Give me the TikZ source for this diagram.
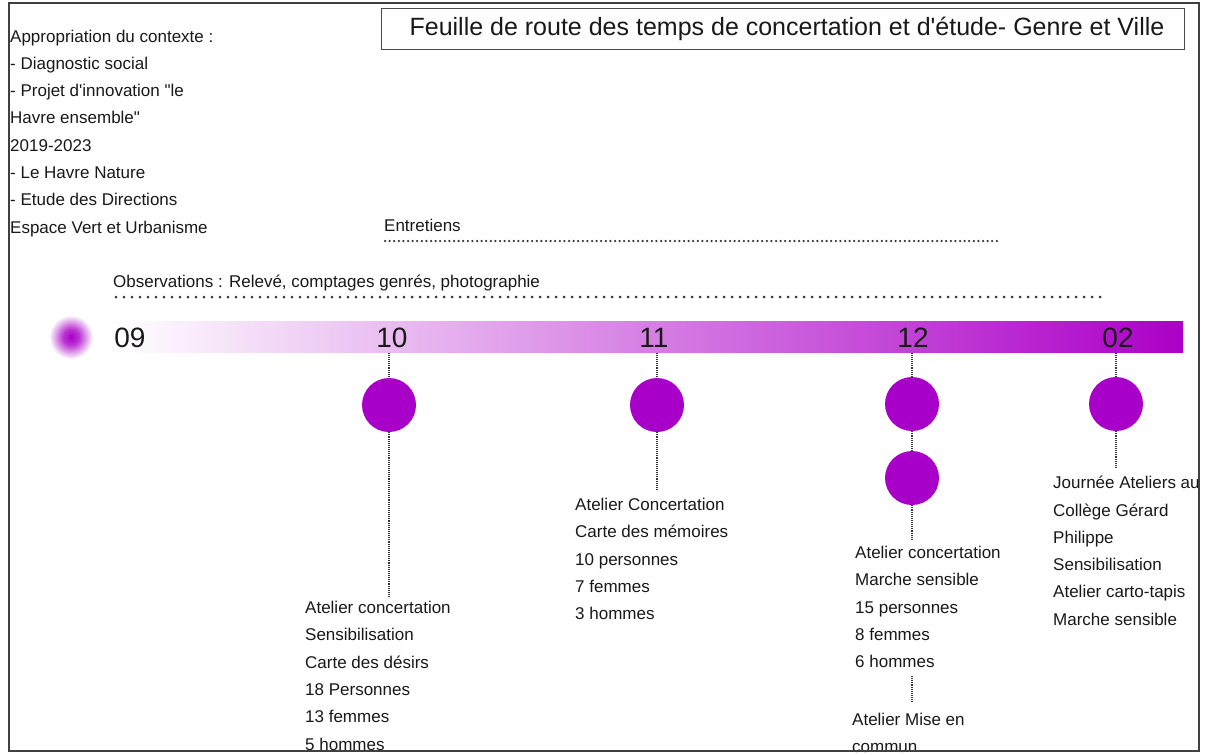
\documentclass[tikz,border=0pt]{standalone}
\usepackage{fontspec}
\setmainfont{Liberation Sans}
\usetikzlibrary{calc}
\definecolor{circc}{RGB}{168,0,200}
\definecolor{barR}{RGB}{172,0,200}
\definecolor{txt}{RGB}{25,25,25}
\definecolor{dotc}{RGB}{55,55,55}
\pgfdeclareradialshading{fuzzy}{\pgfpoint{0bp}{0bp}}{color(0bp)=(circc); color(9bp)=(circc!80!white); color(25bp)=(white); color(50bp)=(white)}
\begin{document}
\begin{tikzpicture}[x=1pt,y=-1pt,
  body/.style={font=\fontsize{17}{27.3}\selectfont, text=txt, align=left, anchor=north west, inner xsep=0pt, inner ysep=3pt},
  single/.style={font=\fontsize{17}{20}\selectfont, text=txt, anchor=base west, inner sep=0pt},
  month/.style={font=\fontsize{28}{30}\selectfont, text=txt, inner sep=0pt},
  bullet/.style={circle, fill=circc, minimum size=54pt, inner sep=0pt},
  vlink/.style={draw=dotc, line width=1.6pt, dash pattern=on 1.1pt off 1pt},
  obsline/.style={draw=dotc, line width=3pt, line cap=round, dash pattern=on 0pt off 8pt},
  entline/.style={draw=dotc, line width=2.5pt, line cap=round, dash pattern=on 0pt off 4.6pt},
]
\useasboundingbox (0,0) rectangle (1208,755);
\fill[white] (0,0) rectangle (1208,755);

% title
\node[draw=black!70, line width=1pt, minimum width=803pt, minimum height=41pt, inner sep=0pt,
      font=\fontsize{25}{28}\selectfont, text=txt] (title) at (783,28.5)
  {\hspace*{8pt}Feuille de route des temps de concertation et d\textquotesingle étude- Genre et Ville};

% context text
\node[body] (ctx) at (10,26.5) {Appropriation du contexte :\\
- Diagnostic social\\
- Projet d\textquotesingle innovation \textquotedbl le\\
Havre ensemble\textquotedbl\\
2019-2023\\
- Le Havre Nature\\
- Etude des Directions\\
Espace Vert et Urbanisme};

% entretiens / observations
\node[single] (ent) at (384,231) {Entretiens};
\draw[entline] (385,241) -- (997,241);
\node[single] (obs) at (113,287) {Observations : Relevé, comptages genrés, photographie};
\draw[obsline] (116,297) -- (1104,297);

% fuzzy start dot
\shade[shading=fuzzy] (71,337) circle (22pt);

% timeline bar
\node[inner sep=0pt, minimum width=1070pt, minimum height=31pt, left color=white, right color=barR] (bar) at (648,337) {};

\node[month] (m09) at (130,338) {09};
\node[month] (m10) at (392,338) {10};
\node[month] (m11) at (654,338) {11};
\node[month] (m12) at (913,338) {12};
\node[month] (m02) at (1118,338) {02};

% bullets
\node[bullet] (c10) at (389,405) {};
\node[bullet] (c11) at (657,405) {};
\node[bullet] (c12a) at (912,404) {};
\node[bullet] (c12b) at (912,478) {};
\node[bullet] (c02) at (1116,404) {};

% text blocks
\node[body] (t10) at (305,598) {Atelier concertation\\Sensibilisation\\Carte des désirs\\18 Personnes\\13 femmes\\5 hommes};
\node[body] (t11) at (575,495) {Atelier Concertation\\Carte des mémoires\\10 personnes\\7 femmes\\3 hommes};
\node[body] (t12) at (855,543) {Atelier concertation\\Marche sensible\\15 personnes\\8 femmes\\6 hommes};
\node[body] (t12b) at (852,710) {Atelier Mise en\\commun};
\node[body] (t02) at (1053,473) {Journée Ateliers au\\Collège Gérard\\Philippe\\Sensibilisation\\Atelier carto-tapis\\Marche sensible};

% connectors
\draw[vlink] (bar.south -| c10) -- (c10.north);
\draw[vlink] (c10.south) -- (c10 |- t10.north);
\draw[vlink] (bar.south -| c11) -- (c11.north);
\draw[vlink] (c11.south) -- ($(c11 |- t11.north)+(0,-6)$);
\draw[vlink] (bar.south -| c12a) -- (c12a.north);
\draw[vlink] (c12a.south) -- (c12b.north);
\draw[vlink] (c12b.south) -- ($(c12b |- t12.north)+(0,-4)$);
\draw[vlink] ($(t12.south -| c12b)+(0,5)$) -- ($(c12b |- t12b.north)+(0,-8)$);
\draw[vlink] (bar.south -| c02) -- (c02.north);
\draw[vlink] (c02.south) -- ($(c02 |- t02.north)+(0,-6)$);

% frame
\draw[line width=2pt, draw=black!75] (9,3) rectangle (1199,751);
\end{tikzpicture}
\end{document}
